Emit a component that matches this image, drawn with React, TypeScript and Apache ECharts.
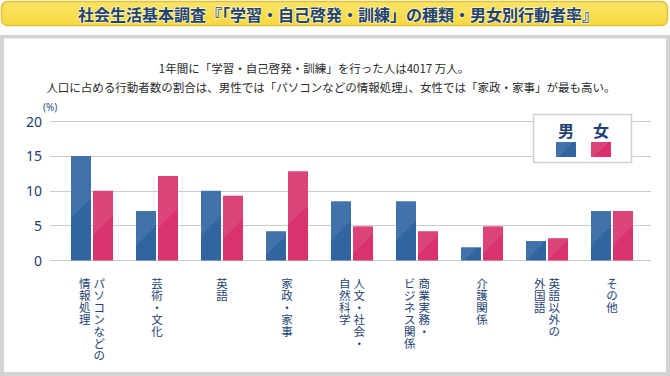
import React, { useEffect, useRef } from 'react';
import * as echarts from 'echarts';

const titleText = '社会生活基本調査『「学習・自己啓発・訓練」の種類・男女別行動者率』';
const subtitleLine1 = '1年間に「学習・自己啓発・訓練」を行った人は4017 万人。';
const subtitleLine2 = '人口に占める行動者数の割合は、男性では「パソコンなどの情報処理」、女性では「家政・家事」が最も高い。';
const unitLabel = '(%)';

const categories = [
  'パソコンなどの情報処理',
  '芸術・文化',
  '英語',
  '家政・家事',
  '人文・社会・自然科学',
  '商業実務・ビジネス関係',
  '介護関係',
  '英語以外の外国語',
  'その他',
];
// vertical label columns, right-to-left
const labelColumns = [
  ['パソコンなどの', '情報処理'],
  ['芸術・文化'],
  ['英語'],
  ['家政・家事'],
  ['人文・社会・', '自然科学'],
  ['商業実務・', 'ビジネス関係'],
  ['介護関係'],
  ['英語以外の', '外国語'],
  ['その他'],
];
const seriesNames = ['男', '女'];
const maleValues = [15.0, 7.1, 10.0, 4.2, 8.5, 8.5, 1.9, 2.8, 7.1];
const femaleValues = [10.0, 12.1, 9.3, 12.8, 4.9, 4.2, 4.9, 3.2, 7.1];
const yMin = 0;
const yMax = 20;
const yInterval = 5;

const BLUE_LIGHT = '#4173aa';
const BLUE_DARK = '#3165a2';
const PINK_LIGHT = '#dc4479';
const PINK_DARK = '#d8336f';
const NAVY = '#1e4272';

const PLOT_TOP = 121;
const PLOT_HEIGHT = 139.5;
const BAR_W = 20;

function splitGradient(light: string, dark: string, w: number, h: number) {
  const hh = Math.max(h, 1);
  const k = (w + hh) / (w * w + hh * hh);
  return new echarts.graphic.LinearGradient(0, 0, w * k, hh * k, [
    { offset: 0, color: light },
    { offset: 0.5, color: light },
    { offset: 0.5, color: dark },
    { offset: 1, color: dark },
  ]);
}

function barData(values: number[], light: string, dark: string) {
  return values.map((v) => ({
    value: v,
    itemStyle: { color: splitGradient(light, dark, BAR_W, (v / (yMax - yMin)) * PLOT_HEIGHT) },
  }));
}

function verticalLabel(index: number) {
  const cols = labelColumns[index];
  const right = Array.from(cols[0]);
  const left = cols.length > 1 ? Array.from(cols[1]) : null;
  const rows = Math.max(right.length, left ? left.length : 0);
  const lines: string[] = [];
  for (let i = 0; i < rows; i++) {
    if (left) {
      lines.push(`{c|${left[i] ?? '　'}}{g| }{c|${right[i] ?? '　'}}`);
    } else {
      lines.push(`{c|${right[i]}}`);
    }
  }
  return lines.join('\n');
}

export default function App() {
  const ref = useRef<HTMLDivElement>(null);
  useEffect(() => {
    if (!ref.current) return;
    const chart = echarts.init(ref.current, undefined, { renderer: 'svg' });
    const cjk = '"Noto Sans CJK JP", "Noto Sans", sans-serif';
    chart.setOption({
      animation: false,
      backgroundColor: '#ffffff',
      textStyle: { fontFamily: cjk },
      grid: [
        { left: 50, width: 601, top: PLOT_TOP, height: PLOT_HEIGHT, containLabel: false },
        { left: 59.5, width: 585, top: PLOT_TOP, height: PLOT_HEIGHT, containLabel: false },
      ],
      xAxis: [
        { gridIndex: 0, type: 'value', show: false },
        {
          gridIndex: 1,
          type: 'category',
          data: categories,
          axisLine: { show: false },
          axisTick: { show: false },
          axisLabel: {
            interval: 0,
            margin: 16,
            align: 'center',
            verticalAlign: 'top',
            formatter: (_v: string, i: number) => verticalLabel(i),
            rich: {
              c: { fontSize: 11.5, lineHeight: 12, color: NAVY, fontFamily: cjk },
              g: { width: 3, fontSize: 11.5, lineHeight: 12 },
            },
          },
        },
      ],
      yAxis: [
        {
          gridIndex: 0,
          type: 'value',
          min: yMin,
          max: yMax,
          interval: yInterval,
          axisLine: { show: false },
          axisTick: { show: false },
          axisLabel: { margin: 8, fontSize: 14, color: '#1d3c6b', fontFamily: '"Noto Sans", sans-serif' },
          splitLine: { lineStyle: { color: '#cccccc', width: 1 } },
        },
        { gridIndex: 1, type: 'value', min: yMin, max: yMax, interval: yInterval, show: false },
      ],
      series: [
        {
          name: seriesNames[0],
          type: 'bar',
          xAxisIndex: 1,
          yAxisIndex: 1,
          barWidth: BAR_W,
          barGap: '10%',
          data: barData(maleValues, BLUE_LIGHT, BLUE_DARK),
        },
        {
          name: seriesNames[1],
          type: 'bar',
          xAxisIndex: 1,
          yAxisIndex: 1,
          barWidth: BAR_W,
          barGap: '10%',
          data: barData(femaleValues, PINK_LIGHT, PINK_DARK),
        },
      ],
      graphic: [
        // outer frame
        { type: 'rect', z: -20, silent: true, shape: { x: 0, y: 35, width: 670, height: 341 }, style: { fill: '#d3d3d3' } },
        { type: 'rect', z: -19, silent: true, shape: { x: 4, y: 38.5, width: 662, height: 333.5 }, style: { fill: '#ffffff' } },
        // title bar
        {
          type: 'rect',
          z: -18,
          silent: true,
          shape: { x: 1.5, y: 1.5, width: 666, height: 24, r: 6 },
          style: {
            fill: new echarts.graphic.LinearGradient(0, 0, 0, 1, [
              { offset: 0, color: '#fae467' },
              { offset: 1, color: '#f6d83f' },
            ]),
            stroke: '#e4c03a',
            lineWidth: 1.5,
          },
        },
        {
          type: 'text',
          z: 10,
          x: 338,
          y: 14,
          style: {
            text: titleText,
            align: 'center',
            verticalAlign: 'middle',
            fill: NAVY,
            fontSize: 16,
            fontWeight: 'bold',
            fontFamily: cjk,
            stroke: 'rgba(255,255,240,0.7)',
            lineWidth: 1.5,
          },
        },
        // subtitle
        {
          type: 'text',
          z: 10,
          x: 314,
          y: 68,
          style: { text: subtitleLine1, align: 'center', verticalAlign: 'middle', fill: '#2a2a2a', fontSize: 11.5, fontFamily: cjk },
        },
        {
          type: 'text',
          z: 10,
          x: 331,
          y: 87,
          style: { text: subtitleLine2, align: 'center', verticalAlign: 'middle', fill: '#2a2a2a', fontSize: 11.5, fontFamily: cjk },
        },
        {
          type: 'text',
          z: 10,
          x: 43,
          y: 107,
          style: { text: unitLabel, align: 'left', verticalAlign: 'middle', fill: '#2b4f85', fontSize: 10, fontFamily: '"Noto Sans", sans-serif' },
        },
        // legend
        {
          type: 'rect',
          z: 10,
          shape: { x: 533.5, y: 114.5, width: 98, height: 48 },
          style: { fill: '#ffffff', stroke: '#d0d0d0', lineWidth: 1.5 },
        },
        {
          type: 'text',
          z: 11,
          x: 566,
          y: 130,
          style: { text: seriesNames[0], align: 'center', verticalAlign: 'middle', fill: NAVY, fontSize: 16, fontWeight: 'bold', fontFamily: cjk },
        },
        {
          type: 'text',
          z: 11,
          x: 601,
          y: 130,
          style: { text: seriesNames[1], align: 'center', verticalAlign: 'middle', fill: NAVY, fontSize: 16, fontWeight: 'bold', fontFamily: cjk },
        },
        {
          type: 'rect',
          z: 11,
          shape: { x: 556, y: 142, width: 20, height: 15 },
          style: { fill: splitGradient(BLUE_LIGHT, BLUE_DARK, 20, 15) },
        },
        {
          type: 'rect',
          z: 11,
          shape: { x: 591, y: 142, width: 20, height: 15 },
          style: { fill: splitGradient(PINK_LIGHT, PINK_DARK, 20, 15) },
        },
      ],
    });
    return () => chart.dispose();
  }, []);
  return <div ref={ref} style={{ position: 'fixed', left: 0, top: 0, width: 670, height: 376 }} />;
}
